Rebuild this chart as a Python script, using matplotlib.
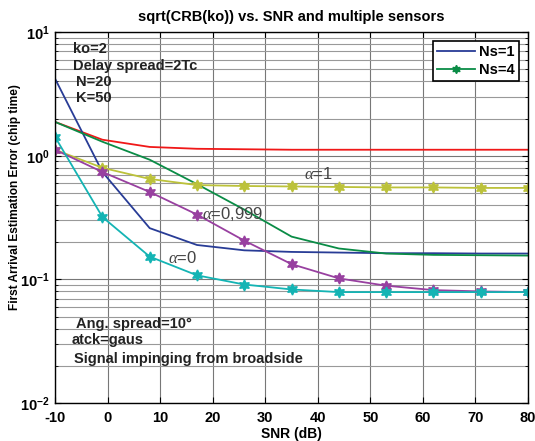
import numpy as np
import matplotlib
matplotlib.use('Agg')
import matplotlib.pyplot as plt
from matplotlib.lines import Line2D

plt.rcParams['font.family'] = ['Liberation Sans', 'DejaVu Sans']
plt.rcParams['mathtext.fontset'] = 'custom'
plt.rcParams['mathtext.rm'] = 'Liberation Sans'
plt.rcParams['mathtext.bf'] = 'Liberation Sans:bold'
plt.rcParams['mathtext.it'] = 'Liberation Serif:italic'

snr = [-10, -1, 8, 17, 26, 35, 44, 53, 62, 71, 80]

# Ns=1 curves (no markers)
ns1_alpha1 = [1.88, 1.35, 1.18, 1.14, 1.13, 1.12, 1.12, 1.12, 1.12, 1.12, 1.12]
ns1_alpha0 = [4.2, 0.74, 0.26, 0.19, 0.172, 0.167, 0.165, 0.163, 0.163, 0.162, 0.162]
ns1_alpha999 = [1.88, 1.30, 0.93, 0.59, 0.367, 0.222, 0.178, 0.162, 0.158, 0.157, 0.156]

# Ns=4 curves (hexagram markers)
ns4_alpha1 = [1.12, 0.80, 0.65, 0.58, 0.57, 0.565, 0.56, 0.555, 0.555, 0.55, 0.55]
ns4_alpha999 = [1.12, 0.74, 0.51, 0.335, 0.206, 0.133, 0.102, 0.089, 0.082, 0.080, 0.079]
ns4_alpha0 = [1.42, 0.32, 0.153, 0.108, 0.091, 0.083, 0.079, 0.079, 0.079, 0.079, 0.079]

c_red = '#f01818'
c_blue = '#283c96'
c_green = '#0a8c46'
c_yel = '#bcc23a'
c_pur = '#9840a0'
c_cyan = '#14b4b4'
star = (6, 1, 0)

fig = plt.figure(figsize=(5.35, 4.41), dpi=100)
ax = fig.add_axes([0.103, 0.086, 0.884, 0.841])

ax.plot(snr, ns1_alpha1, color=c_red, lw=1.3)
ax.plot(snr, ns1_alpha0, color=c_blue, lw=1.3)
ax.plot(snr, ns1_alpha999, color=c_green, lw=1.3)
ax.plot(snr, ns4_alpha1, color=c_yel, lw=1.3, marker=star, ms=8)
ax.plot(snr, ns4_alpha999, color=c_pur, lw=1.3, marker=star, ms=8)
ax.plot(snr, ns4_alpha0, color=c_cyan, lw=1.3, marker=star, ms=8)

ax.set_yscale('log')
ax.set_xlim(-10, 80)
ax.set_ylim(1e-2, 1e1)
ax.set_xticks(range(-10, 81, 10))
ax.set_xticklabels([str(v) for v in range(-10, 81, 10)], fontweight='bold', fontsize=10.5)
ax.set_yticks([1e-2, 1e-1, 1, 10])
ax.set_yticklabels([r'$\mathbf{10^{-2}}$', r'$\mathbf{10^{-1}}$', r'$\mathbf{10^{0}}$', r'$\mathbf{10^{1}}$'], fontsize=10.5)
ax.tick_params(which='both', direction='in', top=True, right=True)
ax.tick_params(which='major', length=4)
ax.tick_params(which='minor', length=2)
ax.tick_params(axis='x', pad=6)
ax.tick_params(axis='y', pad=4)
ax.grid(True, which='major', color='#777777', lw=0.8)
ax.grid(True, which='minor', axis='y', color='#999999', lw=0.8)
for s in ax.spines.values():
    s.set_linewidth(1.0)

ax.set_title('sqrt(CRB(ko)) vs. SNR and multiple sensors', fontsize=10.5, fontweight='bold', pad=8)
ax.set_xlabel('SNR (dB)', fontsize=10, fontweight='bold', labelpad=1)
ax.set_ylabel('First Arrival Estimation Error (chip time)', fontsize=8.6, fontweight='bold')
ax.yaxis.set_label_coords(-0.073, 0.555)

bold = dict(fontsize=10.5, fontweight='bold', color='#222222', va='center')
ax.text(-6.6, 7.3, 'ko=2', **bold)
ax.text(-6.6, 5.3, 'Delay spread=2Tc', **bold)
ax.text(-6.0, 3.95, 'N=20', **bold)
ax.text(-6.0, 2.94, 'K=50', **bold)
ax.text(-6.0, 0.0434, 'Ang. spread=10°', **bold)
ax.text(-6.8, 0.0326, 'atck=gaus', **bold)
ax.text(-6.4, 0.0229, 'Signal impinging from broadside', **bold)

greek = dict(fontsize=12, color='#444444', va='center')
ax.text(37.3, 0.716, r'$\alpha$=1', **greek)
ax.text(18.0, 0.34, r'$\alpha$=0,999', **greek)
ax.text(11.5, 0.148, r'$\alpha$=0', **greek)

handles = [Line2D([], [], color=c_blue, lw=1.3),
           Line2D([], [], color=c_green, lw=1.3, marker=star, ms=6)]
leg = ax.legend(handles, ['Ns=1', 'Ns=4'], loc='upper right', fancybox=False,
                edgecolor='black', framealpha=1, prop={'weight': 'bold', 'size': 10.5},
                handlelength=2.6, borderaxespad=0.6, handletextpad=0.3,
                labelspacing=0.25, borderpad=0.3)
leg.get_frame().set_linewidth(1.2)

fig.savefig('out.png', dpi=100)
